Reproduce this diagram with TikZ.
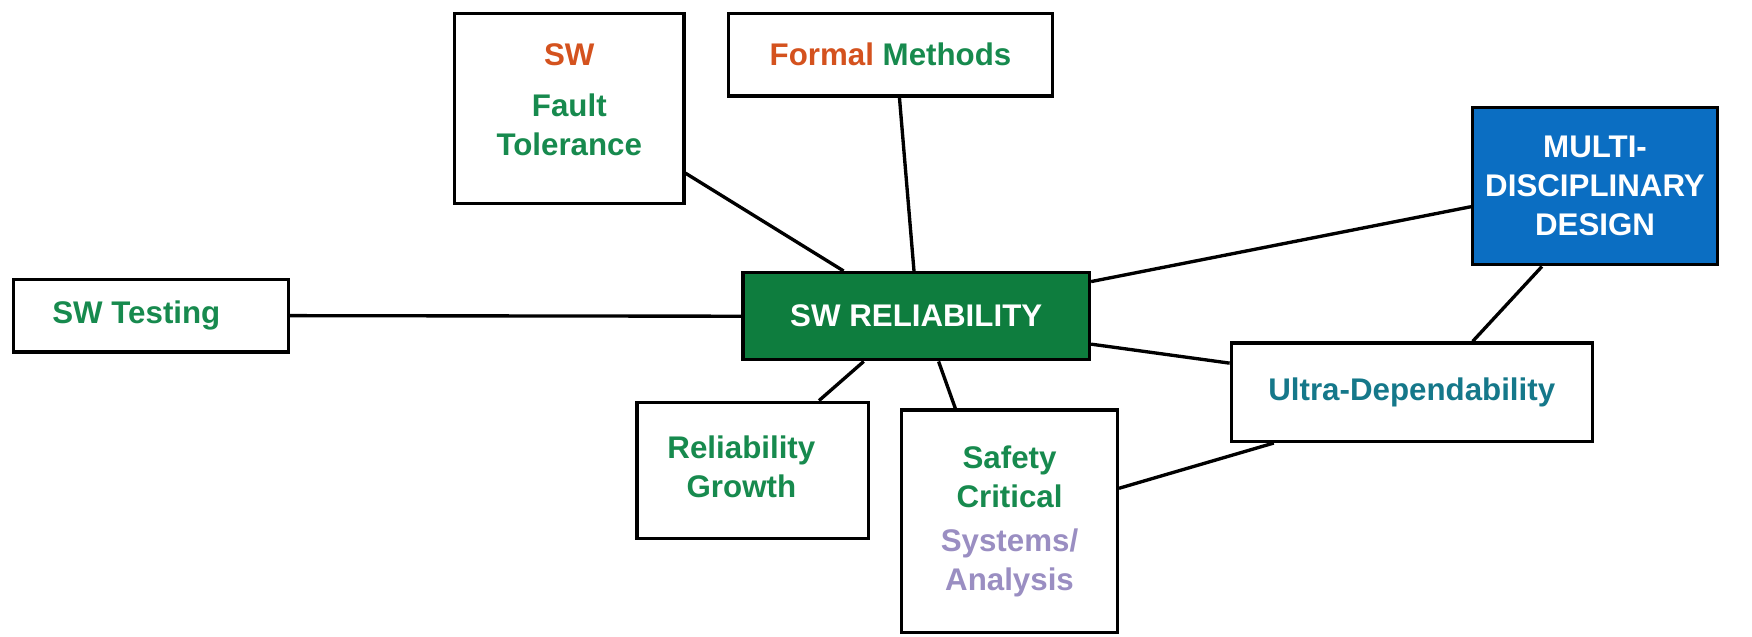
\documentclass[tikz,border=0pt]{standalone}
\usepackage{fontspec}
\setmainfont{Liberation Sans}
\definecolor{tgreen}{HTML}{178A4E}
\definecolor{torange}{HTML}{D4521E}
\definecolor{tpurple}{HTML}{9A8EC2}
\definecolor{tteal}{HTML}{15788A}
\definecolor{fgreen}{HTML}{0E7D3E}
\definecolor{fblue}{HTML}{0B6EC2}
\tikzset{
  box/.style={draw=black, line width=3pt, fill=white, align=center, inner sep=0pt,
    font=\fontsize{28}{35}\selectfont\bfseries, text=tgreen},
  link/.style={line width=3pt, draw=black}
}
\begin{document}
\begin{tikzpicture}[x=1pt, y=-1pt]
\useasboundingbox (0,0) rectangle (1568,570);
\fill[white] (0,0) rectangle (1568,570);
\node[box, minimum width=205pt, minimum height=170pt] (FT) at (509.5,97) {\raisebox{5pt}[\height][\depth]{\begin{tabular}{@{}c@{}}\textcolor{torange}{SW}\\[10pt]Fault\\Tolerance\end{tabular}}};
\node[box, minimum width=290pt, minimum height=74pt] (FM) at (797,49) {\textcolor{torange}{Formal} Methods};
\node[box, fill=fblue, text=white, minimum width=219pt, minimum height=141pt] (MDD) at (1427.5,166.5) {MULTI-\\DISCIPLINARY\\DESIGN};
\node[box, minimum width=246pt, minimum height=65pt] (ST) at (135,282.5) {\hspace*{-26pt}SW Testing};
\node[box, fill=fgreen, text=white, minimum width=310pt, minimum height=78pt] (SWR) at (820,283) {SW RELIABILITY};
\node[box, text=tteal, minimum width=323pt, minimum height=88pt] (UD) at (1263.5,351) {Ultra-Dependability};
\node[box, minimum width=207pt, minimum height=122pt] (RG) at (673.5,421) {\hspace*{-20pt}\begin{tabular}{@{}c@{}}Reliability\\Growth\end{tabular}};
\node[box, minimum width=193pt, minimum height=199pt] (SC) at (903.5,466.5) {Safety\\Critical\\[4pt]\textcolor{tpurple}{Systems/}\\\textcolor{tpurple}{Analysis}};
\draw[link] (ST.east) -- (SWR.west);
\draw[link] ([yshift=-58pt]FT.east) -- ([xshift=-65pt]SWR.north);
\draw[link] ([xshift=8pt]FM.south) -- ([xshift=-2pt]SWR.north);
\draw[link] ([yshift=31pt]SWR.east) -- ([yshift=-18.5pt]MDD.west);
\draw[link] ([yshift=-25pt]SWR.east) -- ([yshift=26pt]UD.west);
\draw[link] ([xshift=-47.5pt]MDD.south) -- ([xshift=54.5pt]UD.north);
\draw[link] ([xshift=59.5pt]RG.north) -- ([xshift=-47pt]SWR.south);
\draw[link] ([xshift=-48.5pt]SC.north) -- ([xshift=20pt]SWR.south);
\draw[link] ([yshift=29.5pt]SC.east) -- ([xshift=-123.5pt]UD.south);
\end{tikzpicture}
\end{document}
